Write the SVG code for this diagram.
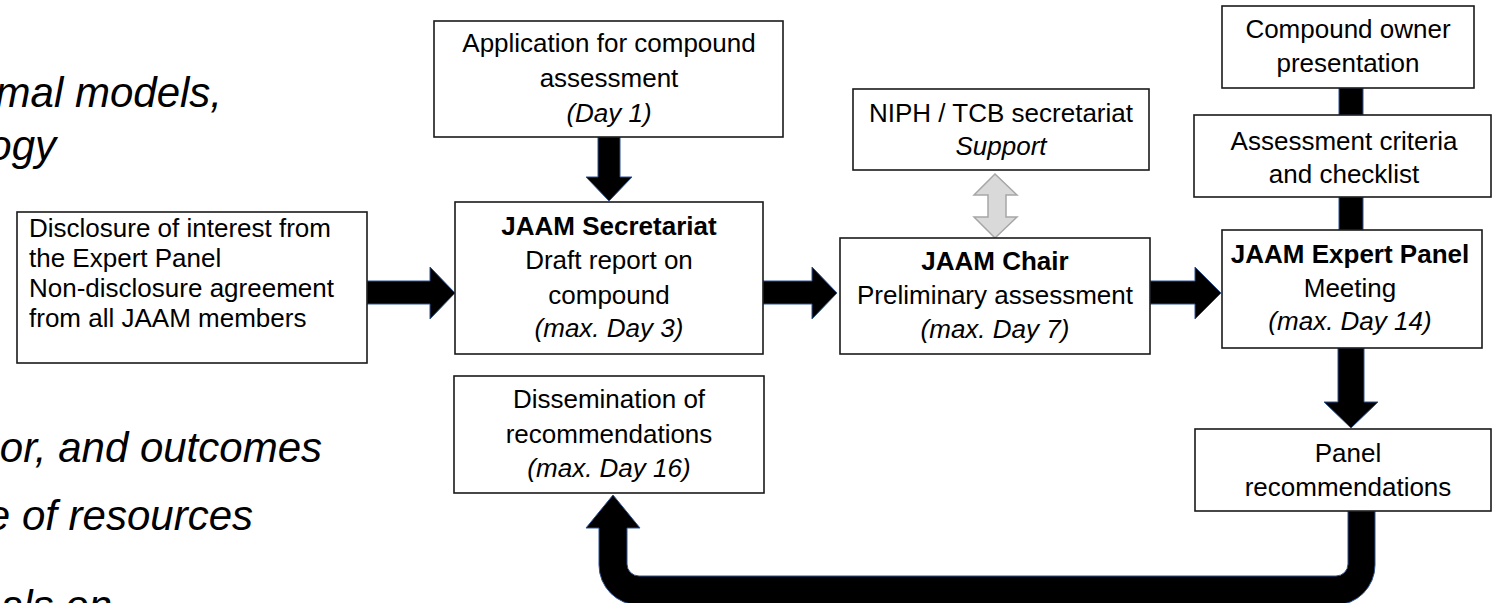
<svg xmlns="http://www.w3.org/2000/svg" width="1494" height="603" viewBox="0 0 1494 603">
<style>
.box{fill:#fff;stroke:#1a1a1a;stroke-width:1.6}
.t{font-family:"Liberation Sans",Arial,sans-serif;font-size:26px;fill:#000;text-anchor:middle}
.l{text-anchor:start}
.b{font-weight:bold}
.i{font-style:italic}
.bg{font-family:"Liberation Sans",Arial,sans-serif;font-size:42px;font-style:italic;fill:#000;text-anchor:end}
.arr{fill:#000;stroke:#2F528F;stroke-width:1}
.dbl{fill:#d9d9d9;stroke:#a6a6a6;stroke-width:1.5}
</style>
<rect width="1494" height="603" fill="#fff"/>
<g id="background-text">
<text class="bg" x="222" y="107">mal models,</text>
<text class="bg" x="56" y="160">ogy</text>
<text class="bg" x="322" y="462">or, and outcomes</text>
<text class="bg" x="253" y="530">e of resources</text>
<text class="bg" x="112" y="620">als on</text>
</g>
<g id="connectors">
<path class="arr" d="M367,281 H430 V267 L455,293 L430,319 V304 H367 Z"/>
<path class="arr" d="M598,137 H620 V177 H632 L609,201 L586,177 H598 Z"/>
<path class="arr" d="M763,281 H812 V267 L837,293 L812,319 V304 H763 Z"/>
<path class="arr" d="M1150,281 H1195 V267 L1221,293 L1195,319 V304 H1150 Z"/>
<path class="dbl" d="M995,174 L1017,195 H1006 V217 H1017 L995,238 L974,217 H988 V195 H974 Z"/>
<path class="arr" d="M1339,88 H1363 V115 H1339 Z"/>
<path class="arr" d="M1339,197 H1363 V230 H1339 Z"/>
<path class="arr" d="M1338,348 H1364 V402 H1378 L1351,428 L1324,402 H1338 Z"/>
<path class="arr" d="M1348,511 H1375 V565 A40,40 0 0 1 1335,605 H639 A40,40 0 0 1 599,565 V528 H586 L613,495 L640,528 H627 V564 A12,12 0 0 0 639,576 H1336 A12,12 0 0 0 1348,564 Z"/>
</g>
<g id="node-disclosure">
<rect class="box" x="17" y="212" width="350" height="151"/>
<text class="t l" x="29" y="237">Disclosure of interest from</text>
<text class="t l" x="29" y="267">the Expert Panel</text>
<text class="t l" x="29" y="297">Non-disclosure agreement</text>
<text class="t l" x="29" y="327">from all JAAM members</text>
</g>
<g id="node-application">
<rect class="box" x="434" y="21" width="349" height="116"/>
<text class="t" x="609" y="52">Application for compound</text>
<text class="t" x="609" y="87">assessment</text>
<text class="t i" x="609" y="122">(Day 1)</text>
</g>
<g id="node-secretariat">
<rect class="box" x="455" y="202" width="308" height="152"/>
<text class="t b" x="609" y="235">JAAM Secretariat</text>
<text class="t" x="609" y="269">Draft report on</text>
<text class="t" x="609" y="304">compound</text>
<text class="t i" x="609" y="337">(max. Day 3)</text>
</g>
<g id="node-niph">
<rect class="box" x="853" y="89" width="296" height="81"/>
<text class="t" x="1001" y="122">NIPH / TCB secretariat</text>
<text class="t i" x="1001" y="155">Support</text>
</g>
<g id="node-chair">
<rect class="box" x="840" y="238" width="310" height="116"/>
<text class="t b" x="995" y="270">JAAM Chair</text>
<text class="t" x="995" y="304">Preliminary assessment</text>
<text class="t i" x="995" y="338">(max. Day 7)</text>
</g>
<g id="node-owner">
<rect class="box" x="1222" y="6" width="252" height="82"/>
<text class="t" x="1348" y="38">Compound owner</text>
<text class="t" x="1348" y="72">presentation</text>
</g>
<g id="node-criteria">
<rect class="box" x="1194" y="115" width="297" height="82"/>
<text class="t" x="1344" y="150">Assessment criteria</text>
<text class="t" x="1344" y="183">and checklist</text>
</g>
<g id="node-expert">
<rect class="box" x="1222" y="230" width="260" height="118"/>
<text class="t b" x="1350" y="263">JAAM Expert Panel</text>
<text class="t" x="1350" y="297">Meeting</text>
<text class="t i" x="1350" y="330">(max. Day 14)</text>
</g>
<g id="node-panel-recs">
<rect class="box" x="1195" y="429" width="296" height="82"/>
<text class="t" x="1348" y="462">Panel</text>
<text class="t" x="1348" y="496">recommendations</text>
</g>
<g id="node-dissemination">
<rect class="box" x="454" y="376" width="310" height="117"/>
<text class="t" x="609" y="408">Dissemination of</text>
<text class="t" x="609" y="443">recommendations</text>
<text class="t i" x="609" y="477">(max. Day 16)</text>
</g>
</svg>
